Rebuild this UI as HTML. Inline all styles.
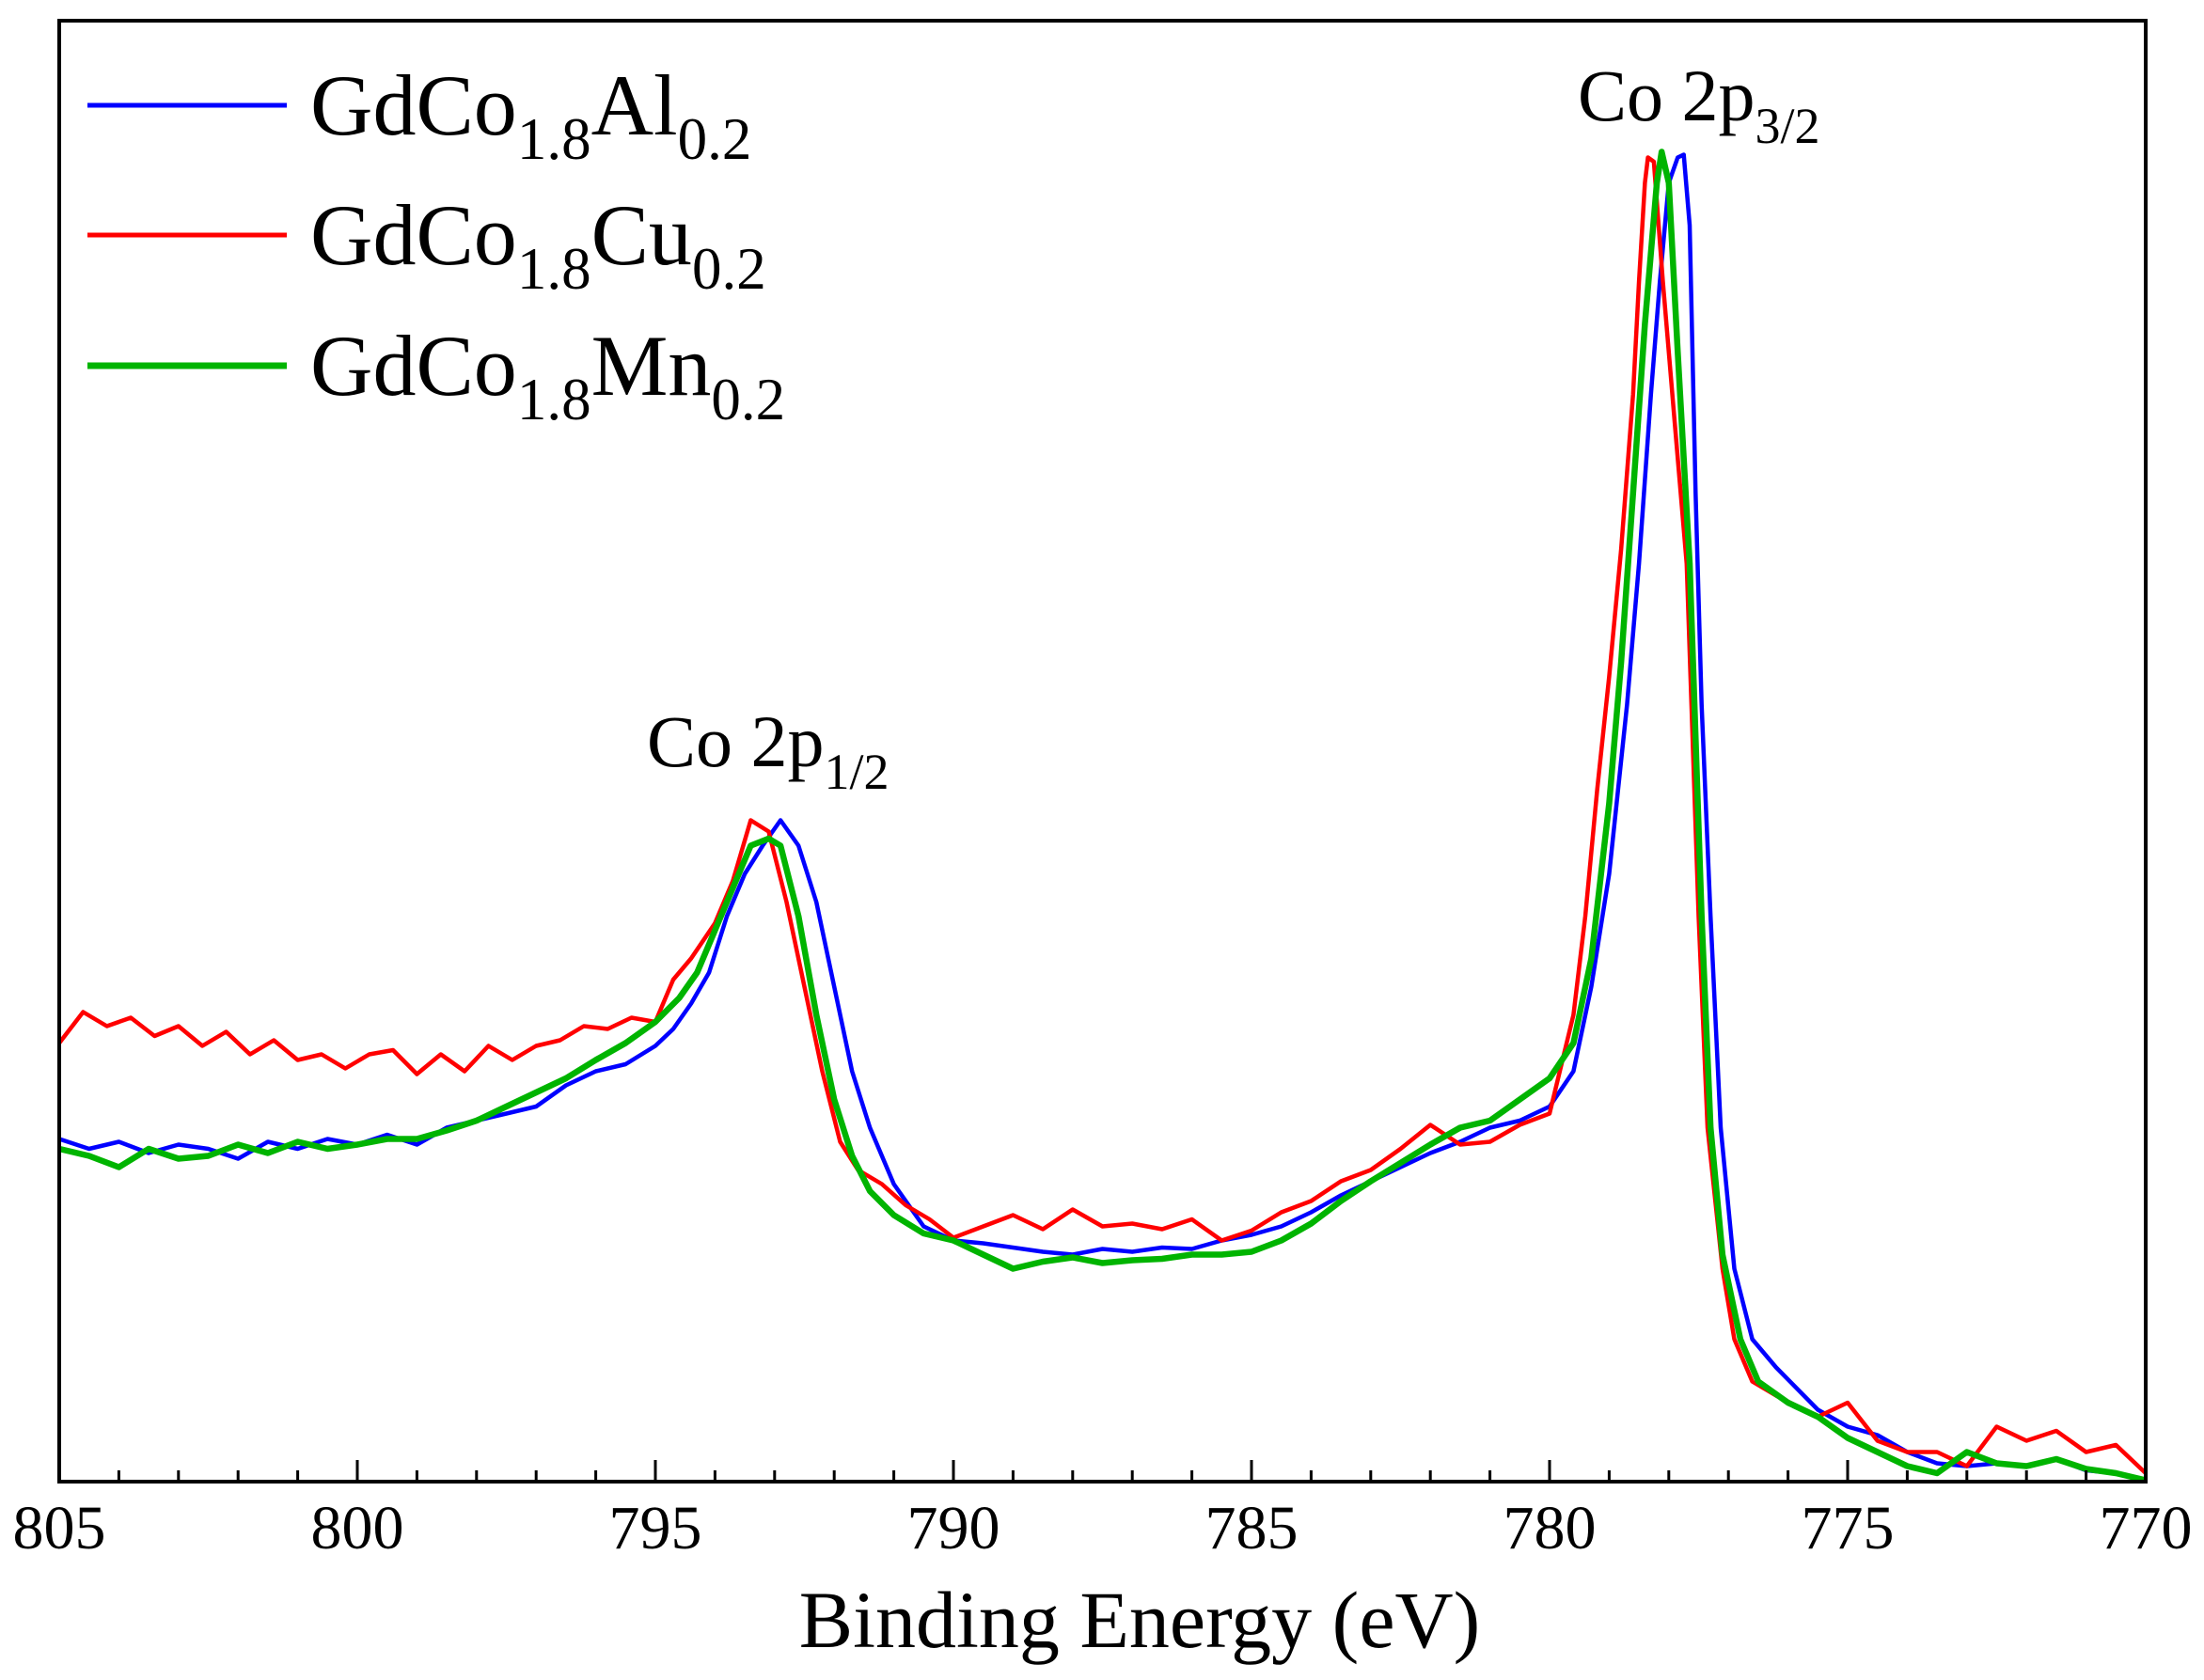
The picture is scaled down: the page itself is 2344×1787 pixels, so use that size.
<!DOCTYPE html>
<html><head><meta charset="utf-8"><style>
html,body{margin:0;padding:0;background:#fff;}
svg{display:block;font-family:"Liberation Serif",serif;}
</style></head><body>
<svg id="chart" width="2344" height="1787" viewBox="0 0 2344 1787">
<g id="series"></g>
<rect x="63" y="22" width="2219" height="1554" fill="none" stroke="#000" stroke-width="4"/>
<g id="ticks"></g>
<g id="ticklabels" font-size="66" text-anchor="middle"></g>
<text x="1212" y="1752" font-size="86" text-anchor="middle">Binding Energy (eV)</text>
<g>
 <g>
  <line x1="93" y1="112" x2="305" y2="112" stroke="#0000ff" stroke-width="5"/>
  <text x="330" y="143" font-size="92">GdCo<tspan font-size="63" dy="26">1.8</tspan><tspan dy="-26">Al</tspan><tspan font-size="63" dy="26">0.2</tspan></text>
 </g>
 <g>
  <line x1="93" y1="250" x2="305" y2="250" stroke="#ff0000" stroke-width="5"/>
  <text x="330" y="281" font-size="92">GdCo<tspan font-size="63" dy="26">1.8</tspan><tspan dy="-26">Cu</tspan><tspan font-size="63" dy="26">0.2</tspan></text>
 </g>
 <g>
  <line x1="93" y1="389" x2="305" y2="389" stroke="#00b400" stroke-width="7"/>
  <text x="330" y="420" font-size="92">GdCo<tspan font-size="63" dy="26">1.8</tspan><tspan dy="-26">Mn</tspan><tspan font-size="63" dy="26">0.2</tspan></text>
 </g>
</g>
<text x="688" y="815" font-size="78">Co 2p<tspan font-size="54" dy="24">1/2</tspan></text>
<text x="1678" y="128" font-size="78">Co 2p<tspan font-size="54" dy="24">3/2</tspan></text>
</svg>
<script>
const tickValues=[805,800,795,790,785,780,775,770];
const tickLabels=["805","800","795","790","785","780","775","770"];
const alX=[805,804.5,804,803.5,803,802.5,802,801.5,801,800.5,800,799.5,799,798.5,798,797.5,797,796.5,796,795.5,795,794.7,794.4,794.1,793.8,793.5,793.2,792.9,792.6,792.3,792,791.7,791.4,791,790.5,790,789.5,789,788.5,788,787.5,787,786.5,786,785.5,785,784.5,784,783.5,783,782.5,782,781.5,781,780.5,780,779.6,779.3,779,778.7,778.5,778.3,778.15,778,777.85,777.75,777.65,777.55,777.45,777.3,777.13,776.9,776.6,776.2,775.5,775,774.5,774,773.5,773,772.5,772,771.5,771,770.5,770];
const alY=[243,236,241,233,239,236,229,241,236,243,239,246,239,251,256,261,266,281,291,296,309,321,339,361,401,431,451,469,451,411,351,291,251,211,181,171,169,166,163,161,165,163,166,165,171,175,181,191,203,213,223,233,241,251,256,266,291,351,431,551,651,771,851,921,939,941,891,701,551,401,251,151,101,81,51,39,33,21,13,11,13,11,16,8,6,1];
const cuX=[805,804.6,804.2,803.8,803.4,803,802.6,802.2,801.8,801.4,801,800.6,800.2,799.8,799.4,799,798.6,798.2,797.8,797.4,797,796.6,796.2,795.8,795.4,795,794.7,794.4,794,793.7,793.4,793.1,792.8,792.5,792.2,791.9,791.6,791.2,790.8,790.4,790,789.5,789,788.5,788,787.5,787,786.5,786,785.5,785,784.5,784,783.5,783,782.5,782,781.5,781,780.5,780,779.6,779.4,779.2,779,778.8,778.6,778.5,778.4,778.35,778.25,778.1,777.9,777.7,777.5,777.35,777.1,776.9,776.6,776.2,775.5,775,774.5,774,773.5,773,772.5,772,771.5,771,770.5,770];
const cuY=[311,333,323,329,316,323,309,319,303,313,299,303,293,303,306,289,303,291,309,299,309,313,323,321,329,326,356,371,396,426,469,461,411,351,291,241,221,211,196,186,173,181,189,179,193,181,183,179,186,171,178,191,199,213,221,236,253,239,241,253,261,331,401,491,571,661,771,851,921,939,936,851,751,651,401,251,151,101,71,61,46,56,29,21,21,11,39,29,36,21,26,6];
const mnX=[805,804.5,804,803.5,803,802.5,802,801.5,801,800.5,800,799.5,799,798.5,798,797.5,797,796.5,796,795.5,795,794.6,794.3,794,793.7,793.4,793.1,792.9,792.6,792.3,792,791.7,791.4,791,790.5,790,789.5,789,788.5,788,787.5,787,786.5,786,785.5,785,784.5,784,783.5,783,782.5,782,781.5,781,780.5,780,779.6,779.3,779,778.8,778.6,778.4,778.2,778.12,778,777.85,777.65,777.45,777.3,777.1,776.8,776.5,776,775.5,775,774.5,774,773.5,773,772.5,772,771.5,771,770.5,770];
const mnY=[236,231,223,236,229,231,239,233,241,236,239,243,243,249,256,266,276,286,299,311,326,343,361,391,421,451,456,451,401,331,271,231,206,189,176,171,161,151,156,159,155,157,158,161,161,163,171,183,199,213,226,239,251,256,271,286,311,371,481,581,701,821,921,943,921,801,651,401,251,161,101,71,56,46,31,21,11,6,21,13,11,16,9,6,1];

const NS="http://www.w3.org/2000/svg";
const X0=63,X1=2282,Y0=1576,Y1=22;
function xs(e){return X0+(805-e)/(805-770)*(X1-X0);}
function ys(v){return Y0-v/1036*(Y0-Y1);}
const series=[[alX,alY,"#0000ff",4.5,"series-gdco18al02"],[cuX,cuY,"#ff0000",4.5,"series-gdco18cu02"],[mnX,mnY,"#00b400",6.5,"series-gdco18mn02"]];
const sg=document.getElementById("series");
series.forEach(s=>{
  const p=document.createElementNS(NS,"path");
  let d="";
  for(let i=0;i<s[0].length;i++){d+=(i?"L":"M")+xs(s[0][i]).toFixed(1)+","+ys(s[1][i]).toFixed(1);}
  p.setAttribute("d",d);p.setAttribute("fill","none");p.setAttribute("stroke",s[2]);
  p.setAttribute("stroke-width",s[3]);p.setAttribute("stroke-linejoin","round");
  
  
  sg.appendChild(p);
});
const tg=document.getElementById("ticks");
for(let e=805;e>=770;e--){
  const major=(e%5===0);
  const l=document.createElementNS(NS,"line");
  l.setAttribute("x1",xs(e));l.setAttribute("x2",xs(e));
  l.setAttribute("y1",Y0);l.setAttribute("y2",Y0-(major?23:12));
  l.setAttribute("stroke","#000");l.setAttribute("stroke-width",3);
  
  
  tg.appendChild(l);
}
const lg=document.getElementById("ticklabels");
tickValues.forEach((v,i)=>{
  const t=document.createElementNS(NS,"text");
  t.setAttribute("x",xs(v));t.setAttribute("y",1647);
  t.textContent=tickLabels[i];
  
  
  lg.appendChild(t);
});
</script>
</body></html>
